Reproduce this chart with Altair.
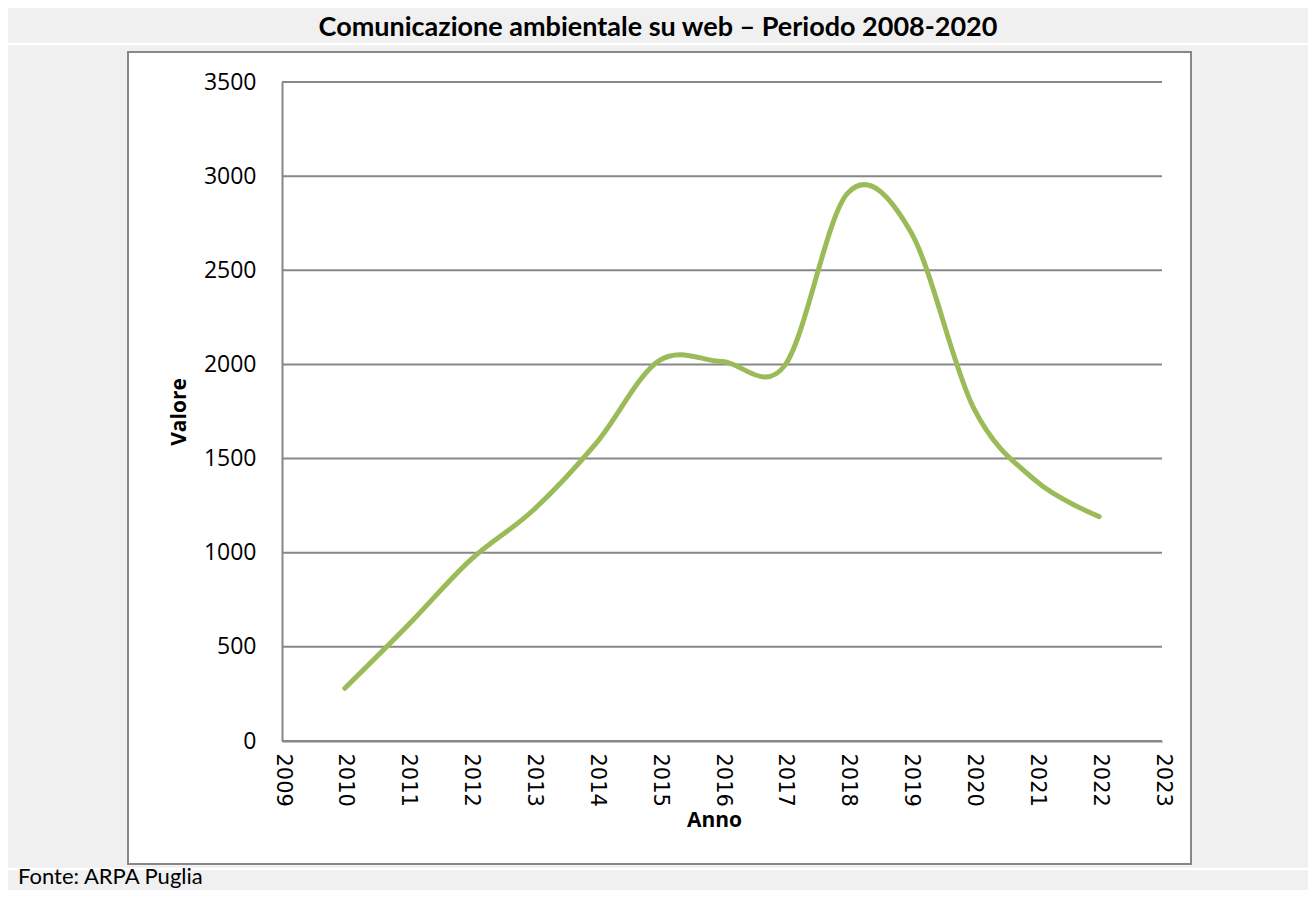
import altair as alt
import pandas as pd

# ---- data ----
anni = [2010, 2011, 2012, 2013, 2014, 2015, 2016, 2017, 2018, 2019, 2020, 2021, 2022]
valori = [280, 613, 962, 1227, 1582, 2020, 2015, 1995, 2910, 2706, 1771, 1380, 1192]
x_ticks = list(range(2009, 2024))
y_ticks = [0, 500, 1000, 1500, 2000, 2500, 3000, 3500]
titolo = "Comunicazione ambientale su web \u2013 Periodo 2008-2020"
fonte = "Fonte: ARPA Puglia"

df = pd.DataFrame({"Anno": anni, "Valore": valori})
grid_df = pd.DataFrame({"Valore": y_ticks})
one = pd.DataFrame({"k": [0]})

GRAY = "#878787"
W, H = 880, 659

x_enc = alt.X(
    "Anno:Q",
    scale=alt.Scale(domain=[2009, 2023], nice=False, zero=False),
    axis=alt.Axis(
        values=x_ticks, format="d", labelAngle=90, labelFont="DejaVu Sans",
        labelFontSize=21, labelColor="#000000", labelPadding=12,
        ticks=False, tickSize=0, grid=False, domainColor=GRAY, domainWidth=2,
        title="Anno", titleFont="Open Sans", titleFontSize=21,
        titleFontWeight="bold", titleColor="#000000", titlePadding=3,
        titleX=432, titleAlign="center", zindex=1,
    ),
)
y_enc = alt.Y(
    "Valore:Q",
    scale=alt.Scale(domain=[0, 3500], nice=False),
    axis=alt.Axis(
        values=y_ticks, format="d", labelFont="Open Sans", labelFontSize=23,
        labelColor="#000000", labelPadding=26, ticks=False, tickSize=0,
        grid=False, domainColor=GRAY, domainWidth=2,
        title="Valore", titleFont="Open Sans", titleFontSize=21,
        titleFontWeight="bold", titleColor="#000000", titlePadding=14,
        zindex=1,
    ),
)

# white framed panel
box = alt.Chart(one).mark_rect(fill="white", stroke=GRAY, strokeWidth=2).encode(
    x=alt.value(-154), x2=alt.value(909), y=alt.value(-30), y2=alt.value(782)
)
sep_top = alt.Chart(one).mark_rule(color="white", strokeWidth=2.5).encode(
    x=alt.value(-280), x2=alt.value(1030), y=alt.value(-38)
)
sep_bot = alt.Chart(one).mark_rule(color="white", strokeWidth=2.5).encode(
    x=alt.value(-280), x2=alt.value(1030), y=alt.value(787)
)

grid = alt.Chart(grid_df).mark_rule(color=GRAY, strokeWidth=2).encode(y=y_enc)

line = alt.Chart(df).mark_line(
    color="#9BBB59", strokeWidth=5, interpolate="cardinal", strokeCap="round"
).encode(x=x_enc, y=y_enc)

title_txt = alt.Chart(one).mark_text(
    text=titolo, font="Lato", fontSize=27, fontWeight="bold", color="#000000",
    align="center", baseline="middle",
).encode(x=alt.value(376), y=alt.value(-54))

fonte_txt = alt.Chart(one).mark_text(
    text=fonte, font="Lato", fontSize=22, color="#000000",
    align="left", baseline="alphabetic",
).encode(x=alt.value(-264), y=alt.value(802))

chart = alt.layer(box, sep_top, sep_bot, grid, line, title_txt, fonte_txt).properties(
    width=W, height=H,
    autosize=alt.AutoSizeParams(type="none"),
    padding={"left": 274, "top": 74, "right": 146, "bottom": 149},
).configure(background="#f0f0f0").configure_view(strokeWidth=0)

chart.save("out.html", embed_options={"renderer": "svg", "actions": False})
